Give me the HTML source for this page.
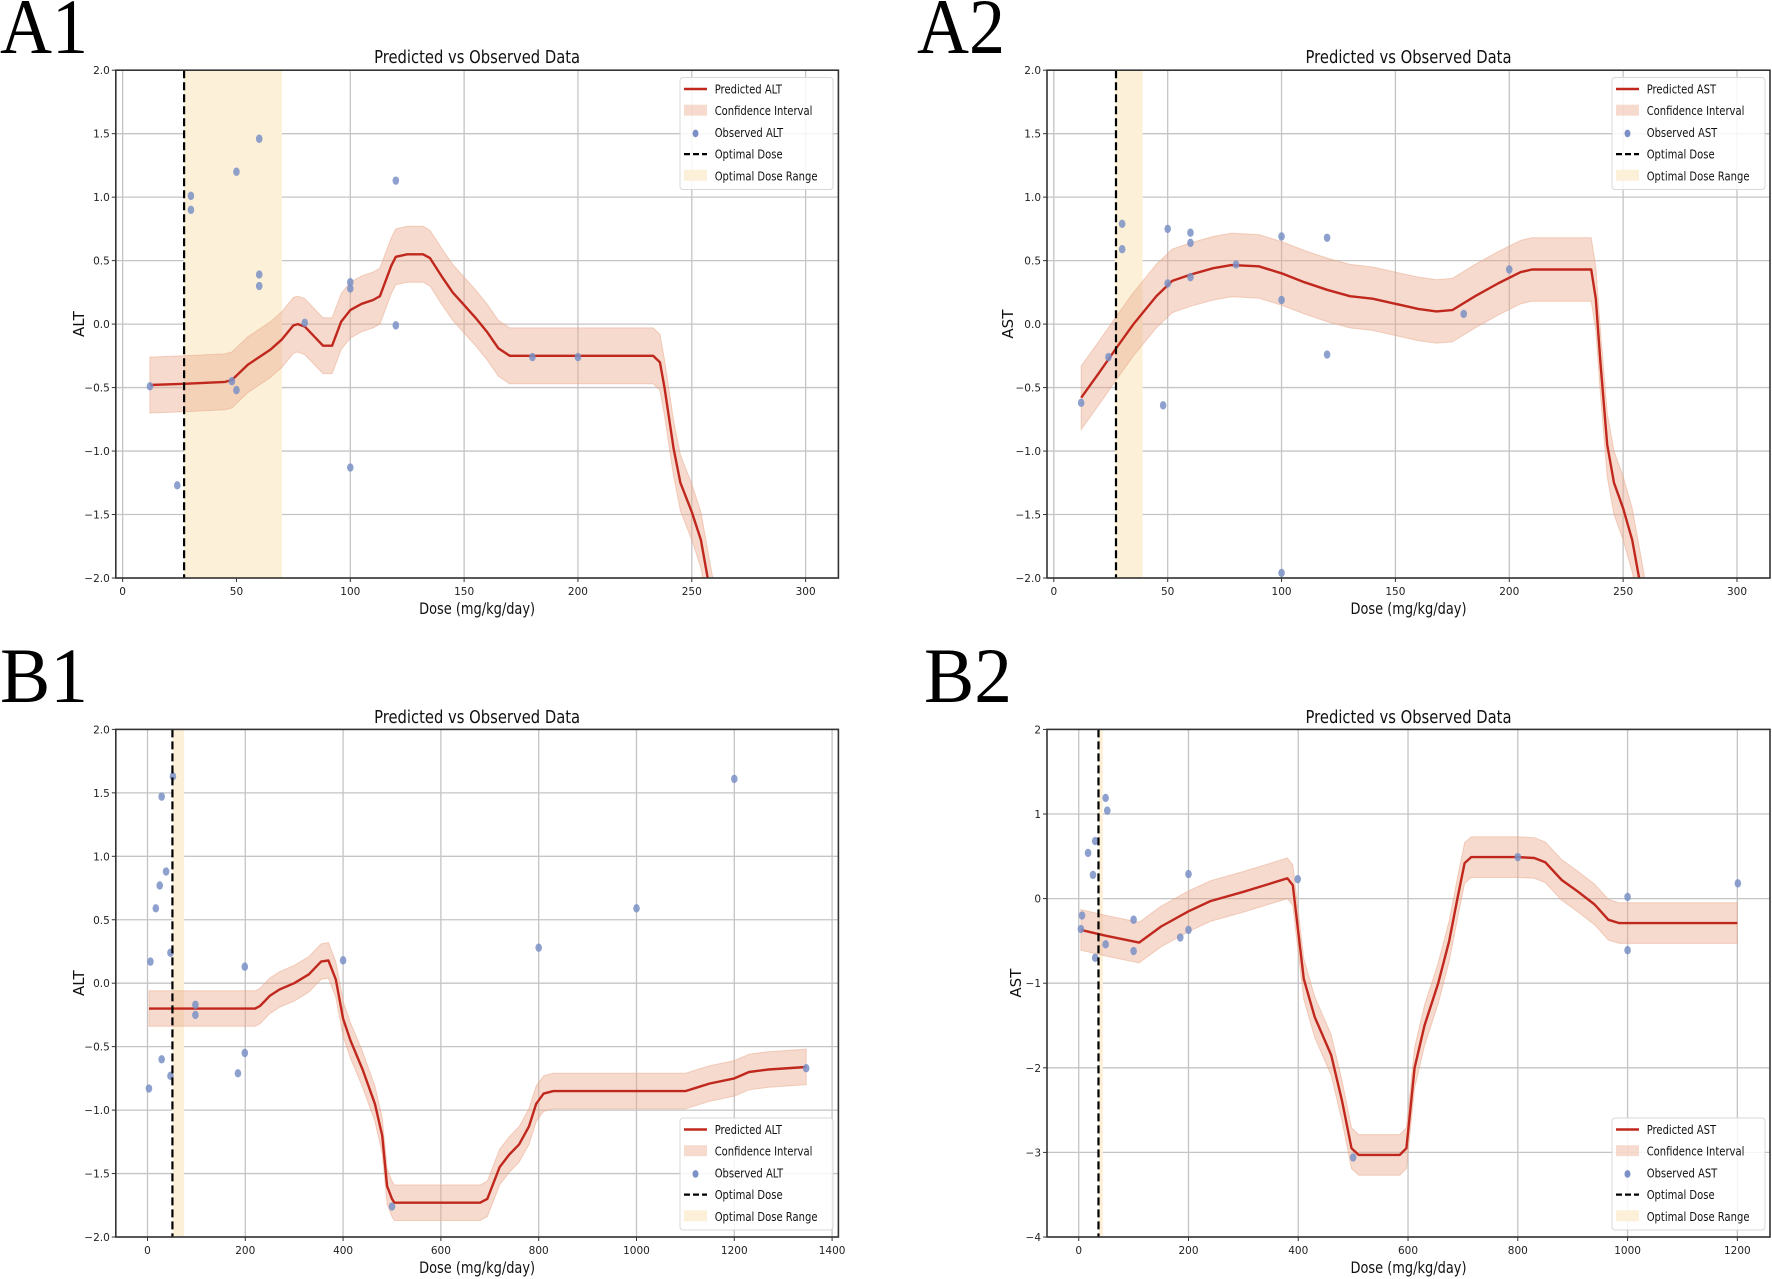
<!DOCTYPE html>
<html><head><meta charset="utf-8">
<style>
html,body{margin:0;padding:0;background:#fff;}
svg{display:block;}
text{font-family:"DejaVu Sans","Liberation Sans",sans-serif;}
.big{font-family:"Liberation Serif",serif;}
</style></head>
<body>
<svg id="fig" width="1772" height="1279" viewBox="0 0 1772 1279" xmlns="http://www.w3.org/2000/svg"></svg>
<script>
// ---------- Panel A1 (ALT, dose 0-300) ----------
const a1PredX = [12,27,45,48,55,65,70,75,77,80,88,92,96,100,105,110,113,118,120,125,132,135,140,145,150,155,160,165,170,175,200,233,236,238,242,245,250,254,257,260];
const a1PredY = [-0.48,-0.47,-0.455,-0.44,-0.32,-0.2,-0.12,-0.01,0.0,-0.02,-0.17,-0.17,0.02,0.11,0.16,0.19,0.22,0.46,0.53,0.55,0.55,0.52,0.38,0.25,0.15,0.05,-0.06,-0.19,-0.25,-0.25,-0.25,-0.25,-0.30,-0.5,-0.98,-1.25,-1.48,-1.7,-2.0,-2.3];
const a1Ci = [0.22];
const a1ObsX = [12,24,30,30,50,48,50,60,60,60,80,100,100,100,120,120,180,200];
const a1ObsY = [-0.49,-1.27,1.01,0.90,1.20,-0.45,-0.52,1.46,0.39,0.30,0.01,0.33,0.28,-1.13,1.13,-0.01,-0.26,-0.26];
const a1Opt = [27, 27, 70];
// ---------- Panel A2 (AST, dose 0-300) ----------
const a2PredX = [12,20,27,35,45,52,60,70,78,90,100,110,120,130,140,150,160,168,175,185,195,205,210,236,238,240,243,246,250,254,257,260];
const a2PredY = [-0.58,-0.38,-0.2,0.0,0.22,0.34,0.39,0.44,0.465,0.455,0.40,0.33,0.27,0.22,0.20,0.16,0.12,0.10,0.11,0.22,0.32,0.41,0.43,0.43,0.2,-0.3,-0.95,-1.25,-1.45,-1.7,-2.0,-2.3];
const a2Ci = [0.25];
const a2ObsX = [12,24,30,30,50,50,48,60,60,60,80,100,100,100,120,120,180,200];
const a2ObsY = [-0.62,-0.26,0.79,0.59,0.75,0.32,-0.64,0.72,0.64,0.37,0.47,0.69,0.19,-1.96,0.68,-0.24,0.08,0.43];
const a2Opt = [27.3, 27, 39];
// ---------- Panel B1 (ALT, dose 0-1400) ----------
const b1PredX = [3,100,220,230,250,270,300,330,355,370,385,400,415,440,465,480,490,500,505,680,695,720,740,760,780,795,810,830,1100,1125,1150,1200,1230,1270,1347];
const b1PredY = [-0.2,-0.2,-0.2,-0.18,-0.1,-0.05,0.0,0.07,0.17,0.18,0.03,-0.28,-0.45,-0.68,-0.95,-1.2,-1.6,-1.7,-1.73,-1.73,-1.7,-1.45,-1.35,-1.27,-1.13,-0.95,-0.87,-0.85,-0.85,-0.82,-0.79,-0.75,-0.7,-0.68,-0.66];
const b1Ci = [0.14];
const b1ObsX = [6,3,17,25,29,29,38,47,47,52,98,98,185,199,199,400,500,800,1000,1200,1347];
const b1ObsY = [0.17,-0.83,0.59,0.77,1.47,-0.60,0.88,0.24,-0.73,1.63,-0.17,-0.25,-0.71,0.13,-0.55,0.18,-1.76,0.28,0.59,1.61,-0.67];
const b1Opt = [51, 51, 75];
// ---------- Panel B2 (AST, dose 0-1200) ----------
const b2PredX = [4,50,110,150,200,240,300,340,380,390,400,410,430,460,480,497,510,585,597,612,630,655,675,690,703,715,800,830,850,880,910,940,965,985,1200];
const b2PredY = [-0.37,-0.44,-0.52,-0.33,-0.15,-0.03,0.08,0.16,0.24,0.16,-0.4,-0.95,-1.4,-1.85,-2.4,-2.95,-3.03,-3.03,-2.95,-2.0,-1.5,-1.0,-0.5,0.0,0.42,0.49,0.49,0.48,0.43,0.22,0.08,-0.07,-0.25,-0.29,-0.29];
const b2Ci = [0.24];
const b2ObsX = [4,6,17,26,30,30,49,52,49,100,100,185,200,200,399,500,800,1000,1000,1201];
const b2ObsY = [-0.36,-0.20,0.54,0.28,0.68,-0.70,1.19,1.04,-0.54,-0.25,-0.62,-0.46,0.29,-0.37,0.23,-3.06,0.49,0.02,-0.61,0.18];
const b2Opt = [36, 36, 44];
// ---------- tick labels ----------
const aXTicks = [0,50,100,150,200,250,300];
const aYTicks = [2.0,1.5,1.0,0.5,0.0,-0.5,-1.0,-1.5,-2.0];
const aYTickLabels = ["2.0","1.5","1.0","0.5","0.0","\u22120.5","\u22121.0","\u22121.5","\u22122.0"];
const b1XTicks = [0,200,400,600,800,1000,1200,1400];
const b1YTicks = aYTicks;
const b2XTicks = [0,200,400,600,800,1000,1200];
const b2YTicks = [2,1,0,-1,-2,-3,-4];
const b2YTickLabels = ["2","1","0","\u22121","\u22122","\u22123","\u22124"];

const NS = "http://www.w3.org/2000/svg";
const fig = document.getElementById('fig');
function mk(tag, attrs, parent){
  const e = document.createElementNS(NS, tag);
  for (const k in attrs) e.setAttribute(k, attrs[k]);
  (parent||fig).appendChild(e);
  return e;
}

const panels = [
 {id:'a1', label:'A1', lx:0, ly:53, L:115.8, R:838.4, T:70.2, B:578, xmin:-3, xmax:314.4, ymin:-2, ymax:2,
  predX:a1PredX, predY:a1PredY, ci:a1Ci, obsX:a1ObsX, obsY:a1ObsY, opt:a1Opt, xt:aXTicks, yt:aYTicks, ytl:aYTickLabels,
  name:'ALT', titleY:63, xlabY:614, ylabX:79, legTop:77.5, legLeft:680, tickBase:595},
 {id:'a2', label:'A2', lx:917, ly:53, L:1047, R:1770, T:70.2, B:578, xmin:-3, xmax:314.5, ymin:-2, ymax:2,
  predX:a2PredX, predY:a2PredY, ci:a2Ci, obsX:a2ObsX, obsY:a2ObsY, opt:a2Opt, xt:aXTicks, yt:aYTicks, ytl:aYTickLabels,
  name:'AST', titleY:63, xlabY:614, ylabX:1008, legTop:77.5, legLeft:1612, tickBase:595},
 {id:'b1', label:'B1', lx:0, ly:702, L:115.8, R:838.4, T:729.4, B:1237, xmin:-64.8, xmax:1412.9, ymin:-2, ymax:2,
  predX:b1PredX, predY:b1PredY, ci:b1Ci, obsX:b1ObsX, obsY:b1ObsY, opt:b1Opt, xt:b1XTicks, yt:b1YTicks, ytl:aYTickLabels,
  name:'ALT', titleY:723, xlabY:1273, ylabX:79, legTop:1118, legLeft:680, tickBase:1254},
 {id:'b2', label:'B2', lx:924, ly:702, L:1047, R:1770, T:729.4, B:1237, xmin:-57.8, xmax:1259.5, ymin:-4, ymax:2,
  predX:b2PredX, predY:b2PredY, ci:b2Ci, obsX:b2ObsX, obsY:b2ObsY, opt:b2Opt, xt:b2XTicks, yt:b2YTicks, ytl:b2YTickLabels,
  name:'AST', titleY:723, xlabY:1273, ylabX:1016, legTop:1118, legLeft:1612, tickBase:1254}
];

const defs = mk('defs', {});
panels.forEach(p => {
  const sx = v => p.L + (v - p.xmin) / (p.xmax - p.xmin) * (p.R - p.L);
  const sy = v => p.B - (v - p.ymin) / (p.ymax - p.ymin) * (p.B - p.T);
  const g = mk('g', {});
  
  

  const cp = mk('clipPath', {id:'clip-' + p.id}, defs);
  mk('rect', {x:p.L, y:p.T, width:p.R-p.L, height:p.B-p.T}, cp);

  const pl = mk('text', {x:p.lx, y:p.ly, class:'big', 'font-size':78, textLength:88, lengthAdjust:'spacingAndGlyphs', fill:'#000'}, g);
  pl.textContent = p.label;
  
  

  const t = mk('text', {x:(p.L+p.R)/2, y:p.titleY, 'font-size':18, 'text-anchor':'middle', textLength:206, lengthAdjust:'spacingAndGlyphs', fill:'#111'}, g);
  t.textContent = 'Predicted vs Observed Data';
  
  

  const grid = mk('g', {stroke:'#c4c4c4', 'stroke-width':1.3}, g);
  
  
  p.xt.forEach(v => { const x = sx(v); if (x >= p.L && x <= p.R) mk('line', {x1:x, x2:x, y1:p.T, y2:p.B}, grid); });
  p.yt.forEach(v => { const y = sy(v); mk('line', {x1:p.L, x2:p.R, y1:y, y2:y}, grid); });

  const plot = mk('g', {'clip-path':'url(#clip-' + p.id + ')'}, g);
  const rg = mk('rect', {x:sx(p.opt[1]), y:p.T, width:sx(p.opt[2])-sx(p.opt[1]), height:p.B-p.T, fill:'#fcf1d8'}, plot);
  
  

  let d = '';
  p.predX.forEach((v,i) => { d += (i ? 'L' : 'M') + sx(v).toFixed(1) + ',' + sy(p.predY[i] + p.ci[0]).toFixed(1); });
  for (let i = p.predX.length - 1; i >= 0; i--) d += 'L' + sx(p.predX[i]).toFixed(1) + ',' + sy(p.predY[i] - p.ci[0]).toFixed(1);
  const band = mk('path', {d:d + 'Z', fill:'#e9a88a', 'fill-opacity':0.42, stroke:'#e9a88a', 'stroke-opacity':0.5, 'stroke-width':1}, plot);
  
  

  let ld = '';
  p.predX.forEach((v,i) => { ld += (i ? 'L' : 'M') + sx(v).toFixed(1) + ',' + sy(p.predY[i]).toFixed(1); });
  const line = mk('path', {d:ld, fill:'none', stroke:'#c0281e', 'stroke-width':2.4, 'stroke-linejoin':'round'}, plot);
  
  

  p.obsX.forEach((v,i) => {
    const c = mk('ellipse', {cx:sx(v), cy:sy(p.obsY[i]), rx:3.3, ry:4.2, fill:'#7a90c6', 'fill-opacity':0.85}, plot);
    
    
  });

  const od = mk('line', {x1:sx(p.opt[0]), x2:sx(p.opt[0]), y1:p.T, y2:p.B, stroke:'#000', 'stroke-width':2.2, 'stroke-dasharray':'8,4'}, plot);
  
  

  const fr = mk('rect', {x:p.L, y:p.T, width:p.R-p.L, height:p.B-p.T, fill:'none', stroke:'#333', 'stroke-width':1.6}, g);
  
  

  p.xt.forEach(v => {
    const x = sx(v);
    mk('line', {x1:x, x2:x, y1:p.B, y2:p.B+4, stroke:'#333', 'stroke-width':1}, g);
    const tl = mk('text', {x:x, y:p.tickBase, 'font-size':10.5, 'text-anchor':'middle', fill:'#222'}, g);
    tl.textContent = String(v);
    
    
  });
  p.yt.forEach((v,i) => {
    const y = sy(v);
    mk('line', {x1:p.L-4, x2:p.L, y1:y, y2:y, stroke:'#333', 'stroke-width':1}, g);
    const tl = mk('text', {x:p.L-6, y:y+4, 'font-size':10.5, 'text-anchor':'end', fill:'#222'}, g);
    tl.textContent = p.ytl[i];
    
    
  });

  const xl = mk('text', {x:(p.L+p.R)/2, y:p.xlabY, 'font-size':16, 'text-anchor':'middle', textLength:116, lengthAdjust:'spacingAndGlyphs', fill:'#111'}, g);
  xl.textContent = 'Dose (mg/kg/day)';
  
  
  const cy = (p.T + p.B) / 2;
  const yl = mk('text', {x:p.ylabX, y:cy, 'font-size':15, 'text-anchor':'middle', transform:'rotate(-90 ' + p.ylabX + ' ' + cy + ')', dy:5, fill:'#111'}, g);
  yl.textContent = p.name;
  
  

  const lg = mk('g', {}, g);
  
  
  mk('rect', {x:p.legLeft, y:p.legTop, width:153, height:112, rx:3, fill:'#fff', 'fill-opacity':0.85, stroke:'#d8d8d8', 'stroke-width':1}, lg);
  const labels = ['Predicted ' + p.name, 'Confidence Interval', 'Observed ' + p.name, 'Optimal Dose', 'Optimal Dose Range'];
  labels.forEach((s,i) => {
    const yy = p.legTop + 11.5 + i * 21.7;
    const hx = p.legLeft + 4;
    if (i === 0) mk('line', {x1:hx, x2:hx+23, y1:yy, y2:yy, stroke:'#c0281e', 'stroke-width':2.4}, lg);
    if (i === 1) mk('rect', {x:hx, y:yy-6, width:23, height:11, fill:'#e9a88a', 'fill-opacity':0.42}, lg);
    if (i === 2) mk('ellipse', {cx:hx+11.5, cy:yy+1, rx:3, ry:3.8, fill:'#7a90c6'}, lg);
    if (i === 3) mk('line', {x1:hx, x2:hx+23, y1:yy, y2:yy, stroke:'#000', 'stroke-width':2.2, 'stroke-dasharray':'6,3'}, lg);
    if (i === 4) mk('rect', {x:hx, y:yy-6, width:23, height:11, fill:'#fcf1d8'}, lg);
    const lt = mk('text', {x:p.legLeft+34.7, y:yy+4.5, 'font-size':12.5, fill:'#111'}, lg);
    lt.textContent = s;
    
    
    const w = lt.getComputedTextLength();
    if (w > 0) {
      lt.setAttribute('textLength', (w * 0.8).toFixed(1));
      lt.setAttribute('lengthAdjust', 'spacingAndGlyphs');
    }
  });
});
</script>
</body></html>
